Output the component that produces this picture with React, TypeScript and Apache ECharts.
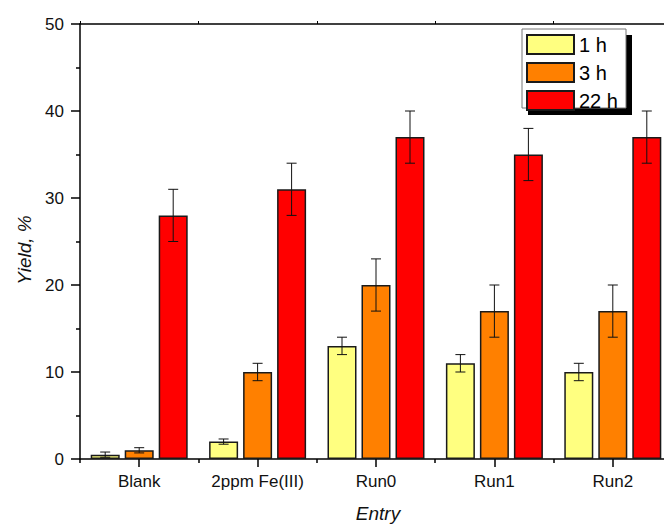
import React, { useEffect, useRef } from "react";
import * as echarts from "echarts";

const categories = ["Blank", "2ppm Fe(III)", "Run0", "Run1", "Run2"];
const seriesNames = ["1 h", "3 h", "22 h"];
const yield1h = [0.5, 2, 13, 11, 10];
const yield3h = [1, 10, 20, 17, 17];
const yield22h = [28, 31, 37, 35, 37];
const err1h = [0.3, 0.3, 1, 1, 1];
const err3h = [0.3, 1, 3, 3, 3];
const err22h = [3, 3, 3, 3, 3];
const yTicks = [0, 10, 20, 30, 40, 50];

const colors = ["#FFFF80", "#FF8000", "#FF0000"];
const FONT = "'Liberation Sans', Arial, sans-serif";
const BAR_W = 29;
const BAR_GAP = 5;

export default function App() {
  const ref = useRef<HTMLDivElement>(null);
  useEffect(() => {
    if (!ref.current) return;
    const chart = echarts.init(ref.current, undefined, { renderer: "svg" });
    const values = [yield1h, yield3h, yield22h];
    const errors = [err1h, err3h, err22h];

    const barSeries = seriesNames.map((name, i) => ({
      name,
      type: "bar",
      xAxisIndex: 0,
      yAxisIndex: 0,
      data: values[i],
      barWidth: BAR_W,
      barGap: (BAR_GAP / BAR_W) * 100 + "%",
      itemStyle: { color: colors[i], borderColor: "#1a1a1a", borderWidth: 1.5 },
      z: 2,
    }));

    const errData: number[][] = [];
    values.forEach((vals, si) => {
      vals.forEach((v, ci) => {
        errData.push([ci, v - errors[si][ci], v + errors[si][ci], si]);
      });
    });

    const errSeries = {
      type: "custom",
      name: "err",
      xAxisIndex: 0,
      yAxisIndex: 0,
      data: errData,
      z: 5,
      silent: true,
      renderItem: (params: any, api: any) => {
        const ci = api.value(0);
        const lo = api.value(1);
        const hi = api.value(2);
        const si = api.value(3);
        const off = (si - 1) * (BAR_W + BAR_GAP);
        const pLo = api.coord([ci, lo]);
        const pHi = api.coord([ci, hi]);
        const x = pLo[0] + off;
        const hw = 5;
        const style = { stroke: "#111", lineWidth: 1, fill: "none" };
        return {
          type: "group",
          children: [
            { type: "line", shape: { x1: x, y1: pLo[1], x2: x, y2: pHi[1] }, style },
            { type: "line", shape: { x1: x - hw, y1: pLo[1], x2: x + hw, y2: pLo[1] }, style },
            { type: "line", shape: { x1: x - hw, y1: pHi[1], x2: x + hw, y2: pHi[1] }, style },
          ],
        };
      },
    };

    const axisLineStyle = { color: "#000", width: 1.5 };

    chart.setOption({
      animation: false,
      backgroundColor: "#fff",
      grid: { left: 80, top: 24, right: 0, bottom: 66, containLabel: false },
      xAxis: [
        {
          type: "category",
          data: categories,
          position: "bottom",
          axisLine: { show: true, lineStyle: axisLineStyle },
          axisTick: { show: true, alignWithLabel: true, length: 8, lineStyle: { color: "#000", width: 1.5 } },
          axisLabel: { interval: 0, fontFamily: FONT, fontSize: 17, color: "#111", margin: 14 },
          splitLine: { show: false },
        },
        {
          type: "category",
          data: categories,
          position: "bottom",
          axisLine: { show: false },
          axisTick: { show: true, interval: 0, alignWithLabel: false, length: 4, lineStyle: { color: "#000", width: 1.5 } },
          axisLabel: { show: false },
          splitLine: { show: false },
        },
        {
          type: "category",
          data: categories,
          position: "top",
          axisLine: { show: true, lineStyle: axisLineStyle },
          axisTick: { show: true, interval: 0, alignWithLabel: false, length: 3, lineStyle: { color: "#000", width: 1 } },
          axisLabel: { show: false },
          splitLine: { show: false },
        },
      ],
      yAxis: [
        {
          type: "value",
          min: yTicks[0],
          max: yTicks[yTicks.length - 1],
          interval: yTicks[1] - yTicks[0],
          axisLine: { show: true, lineStyle: axisLineStyle },
          axisTick: { show: true, length: 9, lineStyle: { color: "#000", width: 1.5 } },
          minorTick: { show: true, splitNumber: 2, length: 4, lineStyle: { color: "#000", width: 1.5 } },
          axisLabel: { fontFamily: FONT, fontSize: 17, color: "#111", margin: 16 },
          splitLine: { show: false },
        },
      ],
      legend: {
        show: true,
        data: seriesNames,
        orient: "vertical",
        left: 526,
        top: 34,
        itemWidth: 47,
        itemHeight: 19,
        itemGap: 7,
        padding: 0,
        icon: "rect",
        textStyle: { fontFamily: FONT, fontSize: 20, color: "#000" },
        selectedMode: false,
        z: 20,
      },
      graphic: [
        {
          type: "rect",
          z: 10,
          shape: { x: 528, y: 35, width: 104, height: 80 },
          style: { fill: "#000" },
        },
        {
          type: "rect",
          z: 11,
          shape: { x: 522, y: 29, width: 104, height: 79 },
          style: { fill: "#fff", stroke: "#777", lineWidth: 1 },
        },
        {
          type: "text",
          x: 24,
          y: 250,
          rotation: Math.PI / 2,
          style: {
            text: "Yield, %",
            fontFamily: FONT,
            fontSize: 19,
            fontStyle: "italic",
            fill: "#111",
            align: "center",
            verticalAlign: "middle",
          },
        },
        {
          type: "text",
          x: 378,
          y: 513,
          style: {
            text: "Entry",
            fontFamily: FONT,
            fontSize: 19,
            fontStyle: "italic",
            fill: "#111",
            align: "center",
            verticalAlign: "middle",
          },
        },
      ],
      series: [...barSeries, errSeries],
    });
    return () => chart.dispose();
  }, []);

  return (
    <div
      ref={ref}
      style={{ position: "fixed", left: 0, top: 0, width: 672, height: 525, background: "#fff" }}
    />
  );
}
